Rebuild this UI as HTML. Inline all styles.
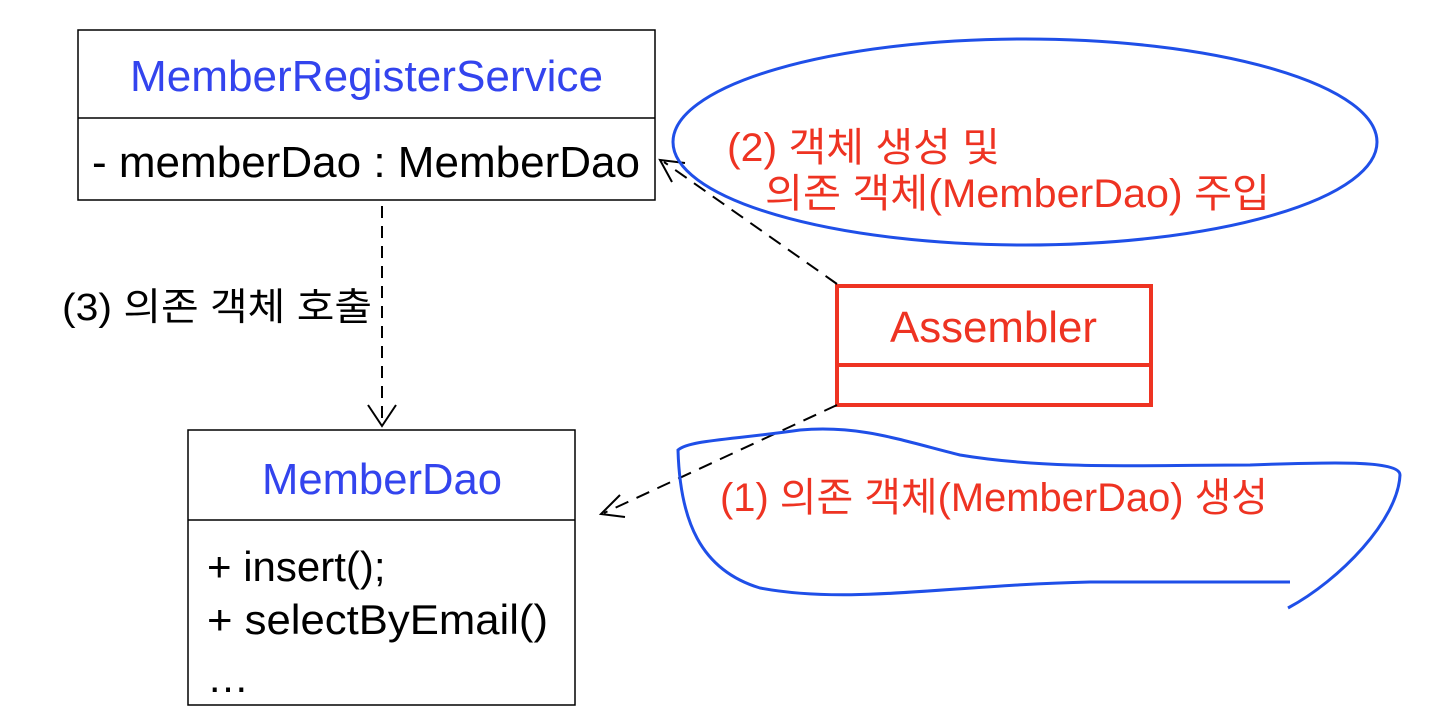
<!DOCTYPE html>
<html><head><meta charset="utf-8"><style>
html,body{margin:0;padding:0;background:#fff;width:1440px;height:726px;overflow:hidden}
text{font-family:"Liberation Sans","Noto Sans CJK KR",sans-serif}
</style></head><body>
<svg width="1440" height="726" viewBox="0 0 1440 726" xmlns="http://www.w3.org/2000/svg">
<!-- MemberRegisterService -->
<rect x="78" y="30" width="577" height="170" fill="none" stroke="#000" stroke-width="1.5"/>
<line x1="78" y1="118" x2="655" y2="118" stroke="#000" stroke-width="1.5"/>
<text x="130" y="91" font-size="44" fill="#3344ee" textLength="473" lengthAdjust="spacingAndGlyphs">MemberRegisterService</text>
<text x="92" y="177" font-size="44" fill="#000" textLength="548" lengthAdjust="spacingAndGlyphs">- memberDao : MemberDao</text>
<!-- MemberDao -->
<rect x="188" y="430" width="387" height="275" fill="none" stroke="#000" stroke-width="1.5"/>
<line x1="188" y1="520" x2="575" y2="520" stroke="#000" stroke-width="1.5"/>
<text x="262" y="494" font-size="44" fill="#3344ee" textLength="240" lengthAdjust="spacingAndGlyphs">MemberDao</text>
<text x="207" y="581" font-size="42" fill="#000">+ insert();</text>
<text x="207" y="634" font-size="42" fill="#000" textLength="341" lengthAdjust="spacingAndGlyphs">+ selectByEmail()</text>
<text x="207" y="692" font-size="42" fill="#000">…</text>
<!-- Assembler -->
<rect x="837" y="286" width="314" height="119" fill="none" stroke="#ee3322" stroke-width="4"/>
<line x1="837" y1="365" x2="1151" y2="365" stroke="#ee3322" stroke-width="4"/>
<text x="890" y="342" font-size="44" fill="#ee3322" textLength="207" lengthAdjust="spacingAndGlyphs">Assembler</text>
<!-- connectors -->
<g stroke="#000" stroke-width="2" fill="none">
<line x1="837" y1="284" x2="664" y2="162" stroke-dasharray="14,9"/>
<polyline points="672,182 660,160 685,163"/>
<line x1="837" y1="405" x2="604" y2="513" stroke-dasharray="14,9"/>
<polyline points="620,495 601,514 625,517"/>
<line x1="382" y1="206" x2="382" y2="424" stroke-dasharray="12,8"/>
<polyline points="368,405 382,426 396,405"/>
</g>
<text x="62" y="320" font-size="38" fill="#000" textLength="310" lengthAdjust="spacingAndGlyphs">(3) 의존 객체 호출</text>
<!-- blue ellipse -->
<ellipse cx="1025" cy="142" rx="352" ry="103" fill="none" stroke="#1f4fe8" stroke-width="3"/>
<text x="727" y="161" font-size="40" fill="#ee3322" textLength="273" lengthAdjust="spacingAndGlyphs">(2) 객체 생성 및</text>
<text x="765" y="207" font-size="40" fill="#ee3322" textLength="505" lengthAdjust="spacingAndGlyphs">의존 객체(MemberDao) 주입</text>
<!-- blue scribble -->
<path d="M1290 582 L1090 582 C950 585 850 605 760 588 C700 570 680 520 678 450 C690 440 730 440 800 430 C860 425 900 440 960 455 C1050 470 1150 465 1250 465 C1330 462 1400 460 1400 475 C1398 520 1340 580 1288 608" fill="none" stroke="#1f4fe8" stroke-width="3"/>
<text x="720" y="511" font-size="40" fill="#ee3322" textLength="548" lengthAdjust="spacingAndGlyphs">(1) 의존 객체(MemberDao) 생성</text>
</svg>
</body></html>
